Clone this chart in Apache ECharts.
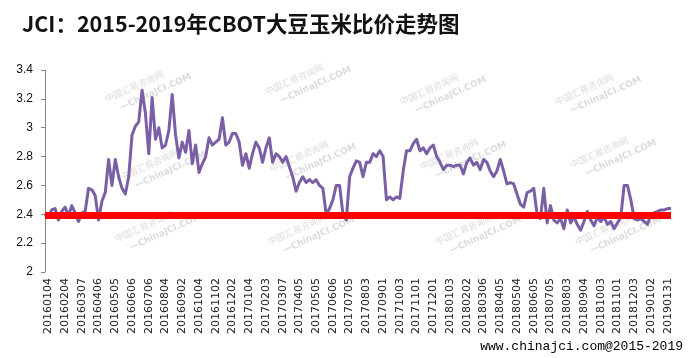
<!DOCTYPE html>
<html>
<head>
<meta charset="utf-8">
<script src="https://cdn.jsdelivr.net/npm/echarts@6/dist/echarts.min.js"></script>
<style>
html,body{margin:0;padding:0;background:#fff;}
#chart{width:689px;height:358px;}
</style>
</head>
<body>
<div id="chart"></div>
<script>
// Tick labels on the category axis (one every 5 samples)
var tickLabels = ['20160104','20160204','20160307','20160406','20160505','20160606','20160706','20160804','20160902','20161004','20161102','20161202',
'20170104','20170203','20170307','20170405','20170505','20170606','20170705','20170803','20170901','20171003','20171101','20171201',
'20180103','20180202','20180306','20180405','20180504','20180605','20180705','20180803','20180904','20181003','20181101','20181203',
'20190102','20190131'];

// Soybean / corn price ratio, sampled along the time axis
var ratio = [
2.40,2.38,2.43,2.44,2.36,2.42,2.45,2.39,2.46,2.41,
2.35,2.41,2.42,2.58,2.57,2.53,2.36,2.49,2.55,2.78,
2.60,2.78,2.66,2.58,2.54,2.66,2.95,3.01,3.04,3.26,
3.10,2.82,3.21,2.92,3.00,2.86,2.88,2.98,3.23,2.95,
2.79,2.90,2.83,2.98,2.75,2.88,2.69,2.75,2.80,2.93,
2.88,2.90,2.92,3.07,2.88,2.90,2.96,2.96,2.90,2.74,
2.82,2.72,2.82,2.90,2.86,2.76,2.86,2.93,2.76,2.82,
2.80,2.76,2.80,2.73,2.66,2.56,2.62,2.66,2.62,2.64,
2.62,2.64,2.60,2.58,2.40,2.44,2.50,2.60,2.60,2.40,
2.36,2.66,2.72,2.77,2.76,2.66,2.76,2.76,2.82,2.80,
2.84,2.80,2.50,2.52,2.50,2.52,2.51,2.70,2.84,2.84,
2.89,2.92,2.84,2.86,2.82,2.86,2.88,2.80,2.76,2.71,
2.74,2.74,2.73,2.74,2.74,2.68,2.76,2.79,2.74,2.76,
2.71,2.78,2.76,2.70,2.66,2.70,2.78,2.70,2.61,2.62,
2.61,2.54,2.47,2.45,2.55,2.56,2.58,2.40,2.37,2.58,
2.34,2.46,2.36,2.34,2.37,2.30,2.43,2.34,2.38,2.33,
2.29,2.35,2.42,2.36,2.32,2.38,2.35,2.38,2.33,2.35,
2.30,2.34,2.38,2.60,2.60,2.50,2.37,2.36,2.37,2.35,
2.33,2.40,2.41,2.42,2.43,2.43,2.44,2.44
];

var baseline = 2.39;
var yTicks = {min: 2, max: 3.4, step: 0.2};
var samplesPerTick = 5;
var tickOffset = 1;

var title = 'JCI：2015-2019年CBOT大豆玉米比价走势图';
var footer = 'www.chinajci.com@2015-2019';
var wmLine1 = '中国汇易咨询网';
var wmLine2 = '—ChinaJCI.COM';

// category names: tick label at tick positions, unique sub-step names elsewhere
var categories = ratio.map(function (v, i) {
  var t = Math.floor((i - tickOffset) / samplesPerTick);
  var r = (i - tickOffset) - t * samplesPerTick;
  if (r === 0 && t >= 0 && t < tickLabels.length) return tickLabels[t];
  return 's' + i;
});

var wmPos = [[135,92],[295,85],[430,95],[585,95],[150,170],[300,162],[450,160],[600,158],[145,232],[298,235],[465,235],[605,235]];
var graphics = [];
wmPos.forEach(function (p) {
  graphics.push({
    type: 'group', x: p[0], y: p[1], rotation: 0.42, silent: true, z: 0,
    children: [
      {type: 'text', x: -30, y: -10, style: {text: wmLine1, font: '9px "Noto Sans CJK SC"', fill: 'rgba(175,175,175,0.45)'}},
      {type: 'text', x: -20, y: 4, style: {text: wmLine2, font: 'bold 9px "DejaVu Sans"', fill: 'rgba(175,175,175,0.45)'}}
    ]
  });
});
graphics.push({
  type: 'text', left: 22, top: 13,
  style: {text: title, font: 'bold 21.5px "Noto Sans CJK SC"', fill: '#111'}
});
graphics.push({
  type: 'text', right: 6, top: 340,
  style: {text: footer, font: '13px "Liberation Mono"', fill: '#000'}
});

var chart = echarts.init(document.getElementById('chart'), null, {renderer: 'canvas'});
chart.setOption({
  animation: false,
  backgroundColor: '#fff',
  graphic: graphics,
  grid: {left: 45, right: 18, top: 70, bottom: 86},
  xAxis: {
    type: 'category',
    data: categories,
    boundaryGap: false,
    axisLine: {show: false},
    axisTick: {show: false},
    axisLabel: {
      rotate: 90,
      margin: 6,
      fontSize: 11,
      fontFamily: 'DejaVu Sans',
      color: '#222',
      interval: function (index) {
        return index >= tickOffset && (index - tickOffset) % samplesPerTick === 0 &&
          (index - tickOffset) / samplesPerTick < tickLabels.length;
      }
    },
    splitLine: {show: false}
  },
  yAxis: {
    type: 'value',
    min: yTicks.min,
    max: yTicks.max,
    interval: yTicks.step,
    axisLine: {show: true, lineStyle: {color: '#868686', width: 1}},
    axisTick: {show: true, inside: false, length: 4, lineStyle: {color: '#868686'}},
    axisLabel: {fontSize: 12, fontFamily: 'Liberation Sans', color: '#111', margin: 12},
    splitLine: {show: false}
  },
  series: [{
    type: 'line',
    data: ratio,
    showSymbol: false,
    symbol: 'none',
    z: 2,
    lineStyle: {color: '#7B5FA5', width: 3, join: 'round'},
    markLine: {
      silent: true,
      symbol: 'none',
      label: {show: false},
      z: 3,
      lineStyle: {color: '#FF0000', width: 7, type: 'solid'},
      data: [{yAxis: baseline}]
    }
  }]
});
</script>
</body>
</html>
